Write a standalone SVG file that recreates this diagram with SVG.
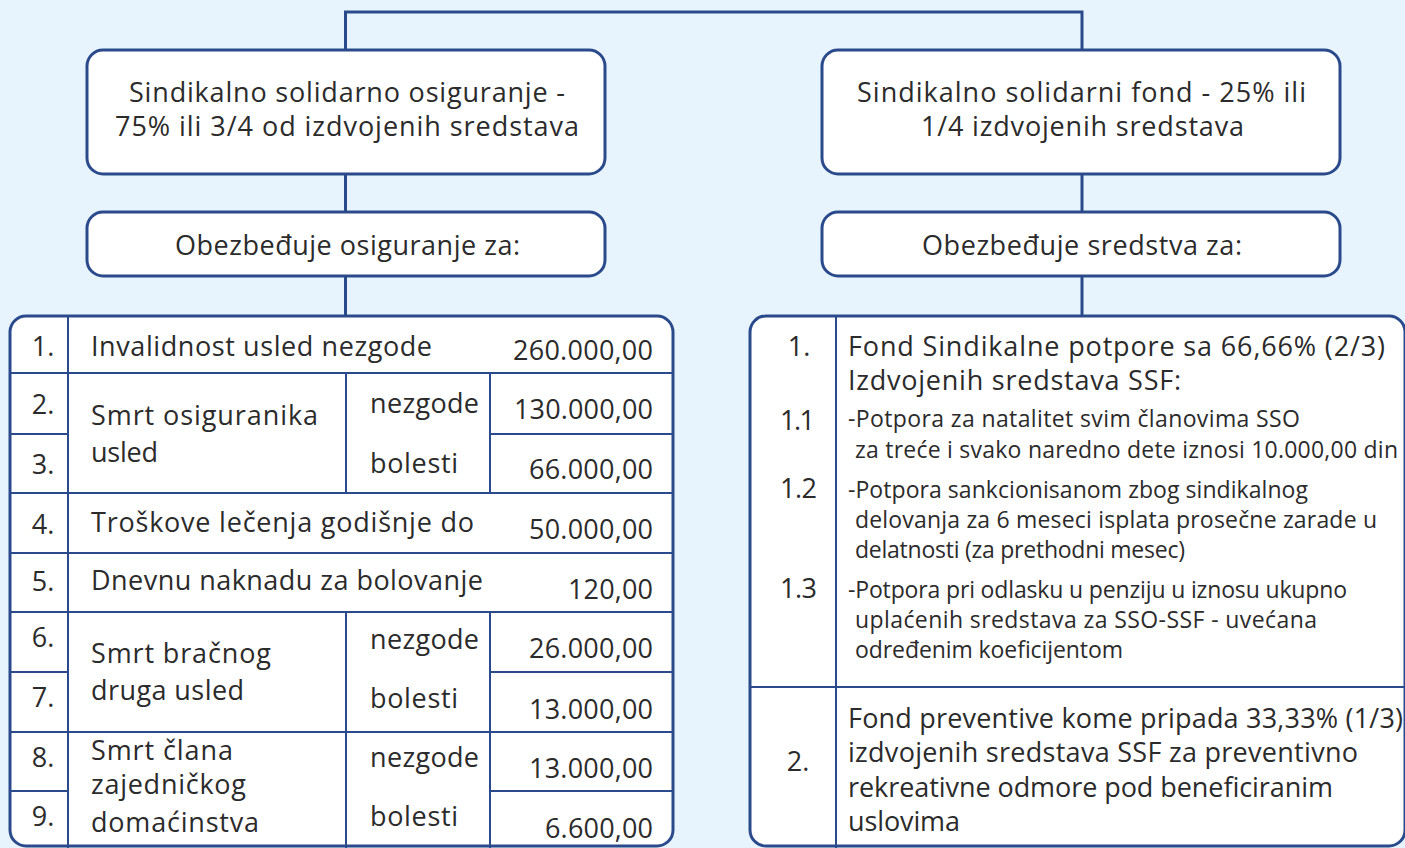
<svg xmlns="http://www.w3.org/2000/svg" width="1405" height="848" viewBox="0 0 1405 848">
<style>
.bg{fill:#E8F4FD}
.box{fill:#FFFFFF;stroke:#2A4A8B;stroke-width:3}
.ln{stroke:#2A4A8B;stroke-width:3;fill:none}
.gl{stroke:#2A4A8B;stroke-width:2;fill:none}
text{font-family:"Open Sans","Liberation Sans",sans-serif;fill:#2B2B2B;font-weight:500}
.t{font-size:27px}
.s{font-size:23px}
.m{text-anchor:middle}
.e{text-anchor:end}
</style>
<rect class="bg" x="0" y="0" width="1405" height="848"/>
<g id="connectors">
<path class="ln" d="M345.5 50 V12 H1082 V50"/>
<path class="ln" d="M345.5 174 V212"/>
<path class="ln" d="M345.5 276 V316"/>
<path class="ln" d="M1082 174 V212"/>
<path class="ln" d="M1082 276 V316"/>
</g>
<g id="left-top">
<rect class="box" x="87" y="50" width="518" height="124" rx="16"/>
<text class="t" x="129" y="102" textLength="436">Sindikalno solidarno osiguranje -</text>
<text class="t" x="115" y="136" textLength="464">75% ili 3/4 od izdvojenih sredstava</text>
</g>
<g id="right-top">
<rect class="box" x="822" y="50" width="518" height="124" rx="16"/>
<text class="t" x="857" y="102" textLength="449">Sindikalno solidarni fond - 25% ili</text>
<text class="t" x="921" y="136" textLength="323">1/4 izdvojenih sredstava</text>
</g>
<g id="left-sub">
<rect class="box" x="87" y="212" width="518" height="64" rx="16"/>
<text class="t" x="175" y="255" textLength="345">Obezbeđuje osiguranje za:</text>
</g>
<g id="right-sub">
<rect class="box" x="822" y="212" width="518" height="64" rx="16"/>
<text class="t" x="922" y="255" textLength="320">Obezbeđuje sredstva za:</text>
</g>
<g id="left-table">
<rect class="box" x="10" y="316" width="663" height="530" rx="16"/>
<path class="gl" d="M68 316 V848"/>
<path class="gl" d="M10 373 H673 M10 493 H673 M10 553 H673 M10 612 H673 M10 732 H673"/>
<path class="gl" d="M10 434 H68 M490 434 H673 M10 672 H68 M490 672 H673 M10 791 H68 M490 791 H673"/>
<path class="gl" d="M346 373 V493 M490 373 V493 M346 612 V848 M490 612 V848"/>
<text class="t m" x="43" y="356">1.</text>
<text class="t" x="91" y="356" textLength="341">Invalidnost usled nezgode</text>
<text class="t" x="513" y="360" textLength="140">260.000,00</text>
<text class="t m" x="43" y="414">2.</text>
<text class="t" x="91" y="425" textLength="227">Smrt osiguranika</text>
<text class="t" x="91" y="462" textLength="67">usled</text>
<text class="t" x="370" y="413" textLength="109">nezgode</text>
<text class="t" x="514" y="419" textLength="139">130.000,00</text>
<text class="t m" x="43" y="474">3.</text>
<text class="t" x="370" y="473" textLength="88">bolesti</text>
<text class="t" x="529" y="479" textLength="124">66.000,00</text>
<text class="t m" x="43" y="534">4.</text>
<text class="t" x="91" y="532" textLength="383">Troškove lečenja godišnje do</text>
<text class="t" x="529" y="539" textLength="124">50.000,00</text>
<text class="t m" x="43" y="591">5.</text>
<text class="t" x="91" y="590" textLength="392">Dnevnu naknadu za bolovanje</text>
<text class="t" x="568" y="599" textLength="85">120,00</text>
<text class="t m" x="43" y="647">6.</text>
<text class="t" x="91" y="663" textLength="180">Smrt bračnog</text>
<text class="t" x="91" y="700" textLength="153">druga usled</text>
<text class="t" x="370" y="649" textLength="109">nezgode</text>
<text class="t" x="529" y="658" textLength="124">26.000,00</text>
<text class="t m" x="43" y="707">7.</text>
<text class="t" x="370" y="708" textLength="88">bolesti</text>
<text class="t" x="529" y="719" textLength="124">13.000,00</text>
<text class="t m" x="43" y="767">8.</text>
<text class="t" x="91" y="760" textLength="142">Smrt člana</text>
<text class="t" x="91" y="794" textLength="155">zajedničkog</text>
<text class="t" x="370" y="767" textLength="109">nezgode</text>
<text class="t" x="529" y="778" textLength="124">13.000,00</text>
<text class="t m" x="43" y="826">9.</text>
<text class="t" x="91" y="832" textLength="168">domaćinstva</text>
<text class="t" x="370" y="826" textLength="88">bolesti</text>
<text class="t" x="545" y="838" textLength="108">6.600,00</text>
</g>
<g id="right-table">
<rect class="box" x="750" y="316" width="655" height="530" rx="16"/>
<path class="gl" d="M836 316 V848"/>
<path class="gl" d="M750 687 H1405"/>
<text class="t m" x="799" y="356">1.</text>
<text class="t" x="848" y="356" textLength="537">Fond Sindikalne potpore sa 66,66% (2/3)</text>
<text class="t" x="848" y="390" textLength="333">Izdvojenih sredstava SSF:</text>
<text class="t" x="780" y="430" textLength="35">1.1</text>
<text class="s" x="848" y="427" textLength="452">-Potpora za natalitet svim članovima SSO</text>
<text class="s" x="855" y="458" textLength="543">za treće i svako naredno dete iznosi 10.000,00 din</text>
<text class="t" x="780" y="498" textLength="37">1.2</text>
<text class="s" x="848" y="498" textLength="460">-Potpora sankcionisanom zbog sindikalnog</text>
<text class="s" x="855" y="528" textLength="522">delovanja za 6 meseci isplata prosečne zarade u</text>
<text class="s" x="855" y="558" textLength="330">delatnosti (za prethodni mesec)</text>
<text class="t" x="780" y="598" textLength="37">1.3</text>
<text class="s" x="848" y="598" textLength="499">-Potpora pri odlasku u penziju u iznosu ukupno</text>
<text class="s" x="855" y="628" textLength="462">uplaćenih sredstava za SSO-SSF - uvećana</text>
<text class="s" x="855" y="658" textLength="268">određenim koeficijentom</text>
<text class="t m" x="798" y="771">2.</text>
<text class="t" x="848" y="728" textLength="555">Fond preventive kome pripada 33,33% (1/3)</text>
<text class="t" x="848" y="762" textLength="510">izdvojenih sredstava SSF za preventivno</text>
<text class="t" x="848" y="797" textLength="485">rekreativne odmore pod beneficiranim</text>
<text class="t" x="848" y="831" textLength="112">uslovima</text>
</g>
</svg>
